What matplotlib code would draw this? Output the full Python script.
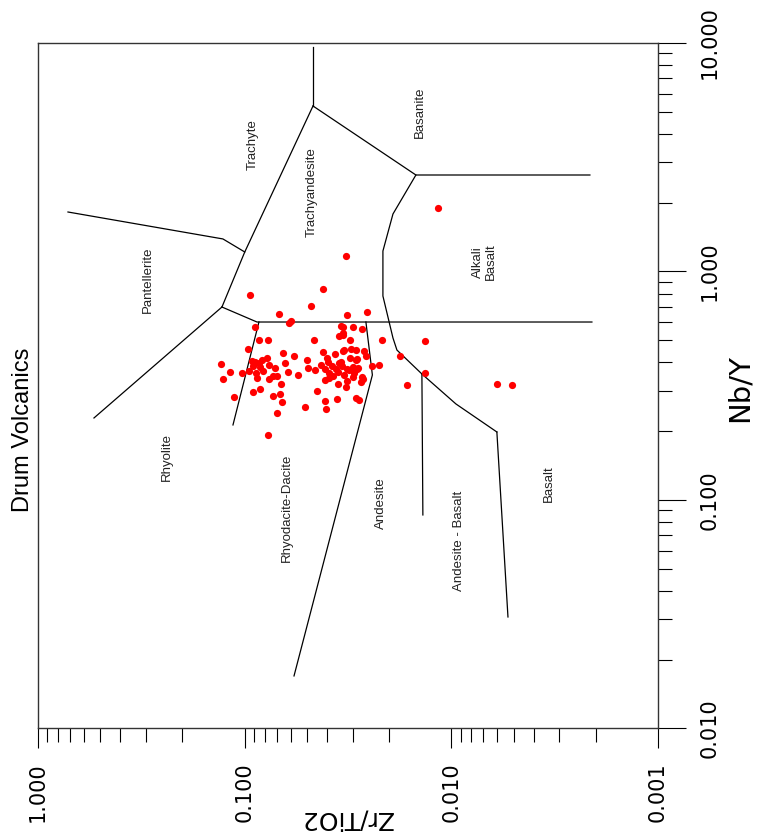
import matplotlib
matplotlib.use('Agg')
from matplotlib import pyplot as plt
from matplotlib.ticker import LogLocator, FormatStrFormatter, NullFormatter

# Drum Volcanics samples (Zr/TiO2, Nb/Y)
zr_tio2 = [0.0943, 0.0420, 0.0478, 0.0680, 0.0599, 0.0610, 0.0318, 0.0255, 0.0895, 0.0343,
           0.0333, 0.0298, 0.0271, 0.0336, 0.0349, 0.0333, 0.0853, 0.0774, 0.0462, 0.0308,
           0.0217, 0.0967, 0.0655, 0.0577, 0.0418, 0.0366, 0.0336, 0.0329, 0.0305, 0.0290,
           0.0265, 0.0783, 0.0925, 0.0892, 0.0850, 0.0638, 0.0500, 0.0401, 0.0394, 0.0343,
           0.0309, 0.0287, 0.130, 0.0909, 0.0843, 0.0766, 0.0496, 0.0456, 0.0427, 0.0409,
           0.0380, 0.0362, 0.0338, 0.0321, 0.0300, 0.0287, 0.0241, 0.0224, 0.118, 0.103,
           0.0950, 0.0882, 0.0813, 0.0619, 0.0392, 0.0354, 0.0296, 0.128, 0.0875, 0.0766,
           0.0727, 0.0700, 0.0554, 0.0410, 0.0390, 0.0373, 0.0331, 0.0319, 0.0298, 0.0272,
           0.0267, 0.0665, 0.0354, 0.0324, 0.0274, 0.0915, 0.0840, 0.0675, 0.0448, 0.113,
           0.0732, 0.0410, 0.0356, 0.0289, 0.0281, 0.0660, 0.0511, 0.0403, 0.0695, 0.0772,
           0.0324, 0.01165, 0.01338, 0.01773, 0.01338, 0.01634, 0.00602, 0.00509, 0.0289, 0.0312,
           0.0349, 0.0825, 0.0714, 0.0259, 0.0283]
nb_y = [0.787, 0.836, 0.708, 0.652, 0.607, 0.595, 0.647, 0.665, 0.572, 0.579,
        0.573, 0.572, 0.562, 0.540, 0.524, 0.528, 0.500, 0.500, 0.500, 0.500,
        0.500, 0.457, 0.440, 0.428, 0.444, 0.436, 0.449, 0.454, 0.457, 0.453,
        0.450, 0.420, 0.407, 0.403, 0.399, 0.399, 0.411, 0.418, 0.403, 0.403,
        0.417, 0.414, 0.395, 0.386, 0.381, 0.390, 0.377, 0.371, 0.389, 0.373,
        0.386, 0.373, 0.386, 0.376, 0.381, 0.373, 0.385, 0.390, 0.364, 0.360,
        0.367, 0.361, 0.368, 0.363, 0.359, 0.363, 0.359, 0.340, 0.343, 0.339,
        0.350, 0.349, 0.352, 0.335, 0.342, 0.349, 0.351, 0.333, 0.347, 0.347,
        0.339, 0.323, 0.323, 0.313, 0.328, 0.297, 0.305, 0.292, 0.300, 0.282,
        0.285, 0.272, 0.278, 0.280, 0.273, 0.268, 0.256, 0.249, 0.241, 0.193,
        1.169, 1.896, 0.498, 0.427, 0.359, 0.319, 0.322, 0.319, 0.410, 0.371,
        0.399, 0.410, 0.378, 0.427, 0.378]

# field boundaries, each as (Zr/TiO2 list, Nb/Y list)
boundaries = [
    ([0.0467, 0.0467], [9.60, 5.30]),
    ([0.0467, 0.0999, 0.1288], [5.30, 1.217, 0.699]),
    ([0.716, 0.1274, 0.0999], [1.821, 1.388, 1.217]),
    ([0.1288, 0.536], [0.699, 0.2285]),
    ([0.1288, 0.0872, 0.002088], [0.699, 0.601, 0.601]),
    ([0.0853, 0.1139], [0.601, 0.213]),
    ([0.0259, 0.0241, 0.0577], [0.601, 0.3524, 0.01698]),
    ([0.0467, 0.01484, 0.002135], [5.30, 2.644, 2.644]),
    ([0.01484, 0.01916, 0.02143, 0.02143, 0.01916, 0.01833, 0.01388, 0.0095, 0.00602],
     [2.644, 1.785, 1.229, 0.781, 0.5117, 0.453, 0.356, 0.2632, 0.1984]),
    ([0.01388, 0.01373], [0.356, 0.086]),
    ([0.00602, 0.00532], [0.1984, 0.03076]),
]

field_names = ['Trachyte', 'Trachyandesite', 'Pantellerite', 'Basanite', 'Alkali\nBasalt',
               'Rhyolite', 'Rhyodacite-Dacite', 'Andesite', 'Andesite - Basalt', 'Basalt']
field_zr = [0.0912, 0.0473, 0.294, 0.01419, 0.00688, 0.238, 0.0624, 0.0219, 0.00919, 0.00337]
field_nby = [3.578, 2.228, 0.918, 4.989, 1.10, 0.1543, 0.0923, 0.0970, 0.0662, 0.1175]

fig = plt.figure(figsize=(7.57, 8.38), dpi=100)
ax = fig.add_axes([0.0502, 0.1307, 0.8190, 0.8180])

for xs, ys in boundaries:
    ax.plot(xs, ys, color='black', lw=0.9)

for name, x, y in zip(field_names, field_zr, field_nby):
    ax.text(x, y, name, rotation=90, ha='center', va='center', fontsize=9.5,
            family='Liberation Sans', color='#222222', multialignment='center',
            linespacing=1.1)

ax.plot(zr_tio2, nb_y, 'o', color='red', ms=5.2, mec='none')

ax.set_xscale('log')
ax.set_yscale('log')
ax.set_xlim(1, 0.001)
ax.set_ylim(0.01, 10)

ax.xaxis.set_major_locator(LogLocator(base=10, numticks=10))
ax.xaxis.set_minor_locator(LogLocator(base=10, subs=range(2, 10), numticks=20))
ax.yaxis.set_major_locator(LogLocator(base=10, numticks=10))
ax.yaxis.set_minor_locator(LogLocator(base=10, subs=range(2, 10), numticks=20))
ax.xaxis.set_major_formatter(FormatStrFormatter('%.3f'))
ax.yaxis.set_major_formatter(FormatStrFormatter('%.3f'))
ax.xaxis.set_minor_formatter(NullFormatter())
ax.yaxis.set_minor_formatter(NullFormatter())

ax.yaxis.tick_right()
ax.tick_params(axis='x', which='major', direction='out', length=14.4, width=0.8,
               labelsize=15, labelrotation=90, pad=10)
ax.tick_params(axis='x', which='minor', direction='out', length=10, width=0.8)
ax.tick_params(axis='y', which='major', direction='out', length=20, width=0.8,
               labelsize=15, labelrotation=90, pad=10)
ax.tick_params(axis='y', which='minor', direction='out', length=10, width=0.8)
for lab in ax.get_yticklabels():
    lab.set_va('center')

for sp in ax.spines.values():
    sp.set_linewidth(1.0)
    sp.set_color('#333333')

fig.text(0.030, 0.487, 'Drum Volcanics', rotation=90, ha='center', va='center',
         fontsize=17, family='Liberation Sans')
fig.text(0.9775, 0.537, 'Nb/Y', rotation=90, ha='center', va='center', fontsize=21)
fig.text(0.457, 0.0235, 'Zr/TiO2', rotation=180, ha='center', va='center', fontsize=18)

fig.savefig('out.png', dpi=100)
